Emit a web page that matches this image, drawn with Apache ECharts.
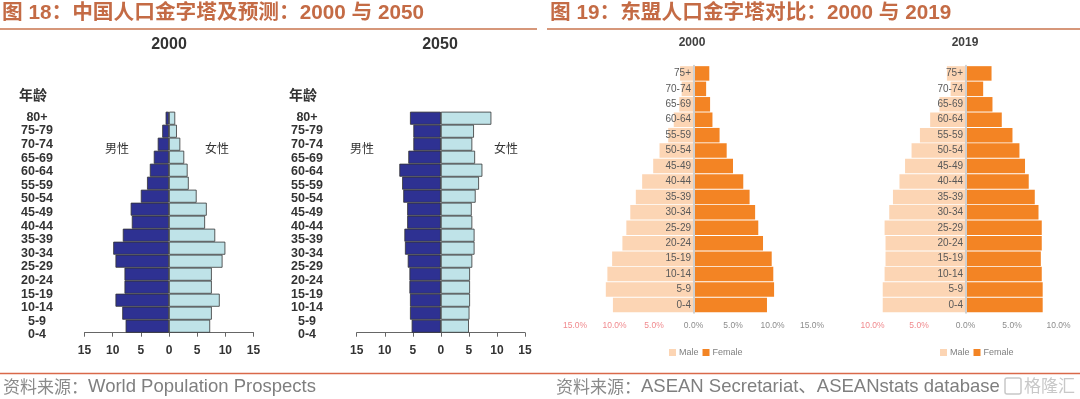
<!DOCTYPE html>
<html>
<head>
<meta charset="utf-8">
<script src="https://cdn.jsdelivr.net/npm/echarts@6/dist/echarts.min.js"></script>
<style>
html,body{margin:0;padding:0;background:#fff;}
#c{width:1080px;height:399px;}
</style>
</head>
<body>
<div id="c"></div>
<script>
// ---------- DATA ----------
// China age groups (bottom -> top)
const cnAges = ['0-4','5-9','10-14','15-19','20-24','25-29','30-34','35-39','40-44','45-49','50-54','55-59','60-64','65-69','70-74','75-79','80+'];
const cn2000Male   = [7.7, 8.3, 9.5, 7.9, 7.9, 9.5, 9.9, 8.2, 6.6, 6.8, 5.0, 3.9, 3.4, 2.7, 2.0, 1.2, 0.6];
const cn2000Female = [7.3, 7.6, 9.0, 7.6, 7.6, 9.5, 10.0, 8.2, 6.4, 6.7, 4.9, 3.5, 3.3, 2.7, 2.0, 1.4, 1.1];
const cn2050Male   = [5.2, 5.5, 5.5, 5.6, 5.6, 5.9, 6.4, 6.5, 6.0, 6.0, 6.7, 6.9, 7.4, 5.8, 4.9, 4.9, 5.5];
const cn2050Female = [5.0, 5.1, 5.2, 5.2, 5.2, 5.6, 6.0, 6.0, 5.6, 5.5, 6.2, 6.8, 7.4, 6.1, 5.6, 5.9, 9.0];

// ASEAN age groups (bottom -> top)
const asAges = ['0-4','5-9','10-14','15-19','20-24','25-29','30-34','35-39','40-44','45-49','50-54','55-59','60-64','65-69','70-74','75+'];
const as2000Male   = [10.2, 11.1, 10.9, 10.3, 9.0, 8.5, 8.0, 7.3, 6.5, 5.1, 4.3, 3.2, 2.5, 1.8, 1.5, 1.7];
const as2000Female = [9.3, 10.2, 10.1, 9.9, 8.8, 8.2, 7.8, 7.1, 6.3, 5.0, 4.2, 3.3, 2.4, 2.1, 1.6, 2.0];
const as2019Male   = [8.9, 8.9, 8.7, 8.6, 8.6, 8.7, 8.2, 7.8, 7.1, 6.5, 5.8, 4.9, 3.8, 2.8, 1.6, 2.0];
const as2019Female = [8.3, 8.3, 8.2, 8.1, 8.2, 8.2, 7.85, 7.45, 6.8, 6.4, 5.8, 5.05, 3.9, 2.9, 1.9, 2.8];

// ---------- CHART ----------
const FONT = '"Liberation Sans", Arial, "Noto Sans CJK SC", sans-serif';
const CJK = '"Noto Sans CJK SC", sans-serif';
const neg = a => a.map(v => -v);

const cnMaleColor = '#2e3192', cnFemaleColor = '#bfe3e8';
const asMaleColor = '#fcd5b4', asFemaleColor = '#f38424';

function cnXAxis(idx){
  return {
    gridIndex: idx, type: 'value', min: -15, max: 15, interval: 5,
    axisLine: {show: true, onZero: false, lineStyle: {color: '#666', width: 1}},
    axisTick: {show: true, length: 4, lineStyle: {color: '#666'}},
    splitLine: {show: false},
    axisLabel: {margin: 12, fontSize: 12, fontWeight: 'bold', color: '#333', fontFamily: FONT,
      formatter: v => String(Math.abs(v))}
  };
}
function asXAxis(idx, lim){
  return {
    gridIndex: idx, type: 'value', min: -lim, max: lim, interval: 5,
    axisLine: {show: false}, axisTick: {show: false}, splitLine: {show: false},
    axisLabel: {margin: 9, fontSize: 8.5, fontFamily: FONT,
      color: v => (v < 0 ? '#f08a8e' : '#8c8c8c'),
      formatter: v => Math.abs(v).toFixed(1) + '%'}
  };
}
function asYAxis(idx, margin){
  return {gridIndex: idx, type: 'category', data: asAges, z: 5,
    axisLine: {show: true, onZero: true, lineStyle: {color: '#cfcfcf', width: 2}},
    axisTick: {show: false},
    axisLabel: {interval: 0, margin: margin, fontSize: 10, color: '#595959', fontFamily: FONT}};
}
function labelYAxis(idx){
  return {gridIndex: idx, type: 'category', data: cnAges, axisLine: {show: false}, axisTick: {show: false},
    axisLabel: {interval: 0, align: 'center', margin: 23, fontSize: 12.5, fontWeight: 'bold', color: '#333', fontFamily: FONT}};
}
function hiddenX(idx){
  return {gridIndex: idx, type: 'value', show: false, min: 0, max: 1};
}
function bar(name, x, data, color, gap, border){
  const s = {name: name, type: 'bar', xAxisIndex: x, yAxisIndex: x, data: data,
    barCategoryGap: gap, barGap: '-100%', itemStyle: {color: color}};
  if (border) { s.itemStyle.borderColor = '#333'; s.itemStyle.borderWidth = 0.8; }
  return s;
}

const option = {
  animation: false,
  backgroundColor: '#fff',
  grid: [
    {left: 84.5, width: 169, top: 111.7, height: 221},   // 0 China 2000
    {left: 356.7, width: 168.3, top: 111.7, height: 221}, // 1 China 2050
    {left: 575, width: 237, top: 65.7, height: 247},      // 2 ASEAN 2000
    {left: 872.5, width: 186, top: 65.7, height: 247},    // 3 ASEAN 2019
    {left: 60, width: 1, top: 110.5, height: 231.3},      // 4 labels China 2000
    {left: 330, width: 1, top: 110.5, height: 231.3}      // 5 labels China 2050
  ],
  xAxis: [cnXAxis(0), cnXAxis(1), asXAxis(2, 15), asXAxis(3, 10), hiddenX(4), hiddenX(5)],
  yAxis: [
    {gridIndex: 0, type: 'category', data: cnAges, show: false},
    {gridIndex: 1, type: 'category', data: cnAges, show: false},
    asYAxis(2, -116),
    asYAxis(3, -90.5),
    labelYAxis(4),
    labelYAxis(5)
  ],
  legend: [
    {left: 664, top: 343, itemWidth: 7, itemHeight: 7, itemGap: 4, icon: 'rect', data: ['Male', 'Female'],
      textStyle: {fontSize: 9, color: '#7f7f7f', fontFamily: FONT, padding: [0, 0, 0, -2]}},
    {left: 935, top: 343, itemWidth: 7, itemHeight: 7, itemGap: 4, icon: 'rect', data: ['Male', 'Female'],
      textStyle: {fontSize: 9, color: '#7f7f7f', fontFamily: FONT, padding: [0, 0, 0, -2]}}
  ],
  series: [
    bar('男性2000', 0, neg(cn2000Male), cnMaleColor, 0, true),
    bar('女性2000', 0, cn2000Female, cnFemaleColor, 0, true),
    bar('男性2050', 1, neg(cn2050Male), cnMaleColor, 0, true),
    bar('女性2050', 1, cn2050Female, cnFemaleColor, 0, true),
    bar('Male', 2, neg(as2000Male), asMaleColor, '6%', false),
    bar('Female', 2, as2000Female, asFemaleColor, '6%', false),
    bar('Male', 3, neg(as2019Male), asMaleColor, '6%', false),
    bar('Female', 3, as2019Female, asFemaleColor, '6%', false)
  ],
  graphic: [
    // headers
    {type: 'text', x: 2, y: 13, style: {text: '图 18：中国人口金字塔及预测：2000 与 2050', fill: '#c46b45',
      fontSize: 20.7, fontWeight: 'bold', fontFamily: FONT, verticalAlign: 'middle'}},
    {type: 'text', x: 550, y: 13, style: {text: '图 19：东盟人口金字塔对比：2000 与 2019', fill: '#c46b45',
      fontSize: 20.7, fontWeight: 'bold', fontFamily: FONT, verticalAlign: 'middle'}},
    {type: 'line', shape: {x1: 0, y1: 29, x2: 537, y2: 29}, style: {stroke: '#d6977a', lineWidth: 2}},
    {type: 'line', shape: {x1: 547, y1: 29, x2: 1080, y2: 29}, style: {stroke: '#d6977a', lineWidth: 2}},
    // footer
    {type: 'line', shape: {x1: 0, y1: 373.5, x2: 1080, y2: 373.5}, style: {stroke: '#d9694a', lineWidth: 1.5}},
    {type: 'text', x: 3, y: 387, style: {text: '{a|资料来源：}{b|World Population Prospects}', verticalAlign: 'middle',
      rich: {a: {fontSize: 17, fill: '#8a8a8a', fontFamily: CJK}, b: {fontSize: 18.5, fill: '#7f7f7f', fontFamily: FONT}}}},
    {type: 'text', x: 556, y: 387, style: {text: '{a|资料来源：}{b|ASEAN Secretariat、ASEANstats database}', verticalAlign: 'middle',
      rich: {a: {fontSize: 17, fill: '#8a8a8a', fontFamily: CJK}, b: {fontSize: 18.5, fill: '#7f7f7f', fontFamily: FONT}}}},
    {type: 'rect', shape: {x: 1005, y: 378, width: 16, height: 16, r: 2}, style: {fill: 'none', stroke: '#c8c8c8', lineWidth: 1.5}},
    {type: 'text', x: 1024, y: 386, style: {text: '格隆汇', fill: '#c8c8c8', fontSize: 17, fontFamily: CJK, verticalAlign: 'middle'}},
    // China chart titles
    {type: 'text', x: 169, y: 45, style: {text: '2000', fontSize: 16, fontWeight: 'bold', fill: '#333', fontFamily: FONT, align: 'center', verticalAlign: 'middle'}},
    {type: 'text', x: 440, y: 45, style: {text: '2050', fontSize: 16, fontWeight: 'bold', fill: '#333', fontFamily: FONT, align: 'center', verticalAlign: 'middle'}},
    {type: 'text', x: 33, y: 95, style: {text: '年龄', fontSize: 14, fontWeight: 'bold', fill: '#333', fontFamily: CJK, align: 'center', verticalAlign: 'middle'}},
    {type: 'text', x: 303, y: 95, style: {text: '年龄', fontSize: 14, fontWeight: 'bold', fill: '#333', fontFamily: CJK, align: 'center', verticalAlign: 'middle'}},
    {type: 'text', x: 117, y: 148, style: {text: '男性', fontSize: 12, fill: '#333', fontFamily: CJK, align: 'center', verticalAlign: 'middle'}},
    {type: 'text', x: 217, y: 148, style: {text: '女性', fontSize: 12, fill: '#333', fontFamily: CJK, align: 'center', verticalAlign: 'middle'}},
    {type: 'text', x: 362, y: 148, style: {text: '男性', fontSize: 12, fill: '#333', fontFamily: CJK, align: 'center', verticalAlign: 'middle'}},
    {type: 'text', x: 506, y: 148, style: {text: '女性', fontSize: 12, fill: '#333', fontFamily: CJK, align: 'center', verticalAlign: 'middle'}},
    // ASEAN chart titles
    {type: 'text', x: 692, y: 43, style: {text: '2000', fontSize: 12, fontWeight: 'bold', fill: '#404040', fontFamily: FONT, align: 'center', verticalAlign: 'middle'}},
    {type: 'text', x: 965, y: 43, style: {text: '2019', fontSize: 12, fontWeight: 'bold', fill: '#404040', fontFamily: FONT, align: 'center', verticalAlign: 'middle'}}
  ]
};

const chart = echarts.init(document.getElementById('c'), null, {renderer: 'canvas'});
chart.setOption(option);
</script>
</body>
</html>
